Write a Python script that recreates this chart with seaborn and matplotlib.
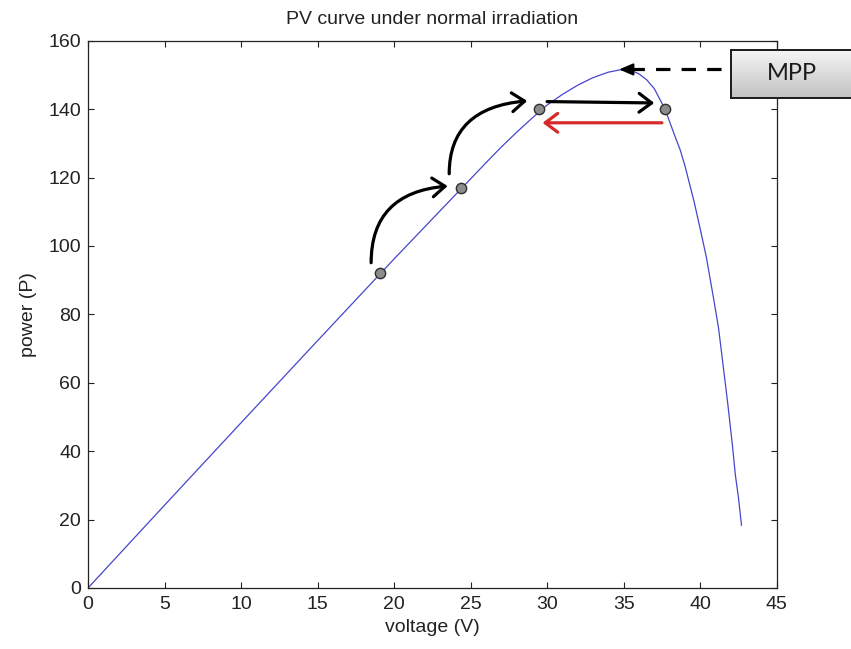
import numpy as np
import seaborn as sns
import matplotlib.pyplot as plt

# PV curve readings (voltage V, power W)
voltage = [0, 5, 10, 15, 20, 25, 26, 27, 28, 29, 30, 31, 32, 33, 34, 34.9, 35.5, 36,
           36.5, 37, 37.7, 38.4, 38.7, 39, 39.6, 40, 40.4, 40.9, 41.2, 41.5, 41.8,
           42.1, 42.3, 42.5, 42.7]
power = [0, 24.2, 48.3, 72.3, 96.2, 119.6, 124.3, 128.9, 133.2, 137.3, 141.2, 144.3,
         147.0, 149.2, 150.8, 151.6, 151.3, 150.3, 148.6, 146.0, 140.0, 131.5, 128.0,
         123.5, 113.0, 105.0, 96.8, 84.0, 76.0, 65.0, 54.0, 42.0, 33.0, 26.5, 18.3]

# perturb & observe operating points
step_v = [19.1, 24.4, 29.5, 37.7]
step_p = [92.1, 116.8, 140.0, 140.0]

x_ticks = list(range(0, 46, 5))
y_ticks = list(range(0, 161, 20))

sns.set_theme(style="ticks")
plt.rcParams['font.family'] = ['Liberation Sans', 'DejaVu Sans']

fig = plt.figure(figsize=(8.51, 6.49), dpi=100)
ax = fig.add_axes([88 / 851, 1 - 588 / 649, (776.7 - 88) / 851, (588 - 40.7) / 649])

sns.lineplot(x=voltage, y=power, ax=ax, color='#4646cc', lw=0.9, sort=False, estimator=None)
sns.scatterplot(x=step_v, y=step_p, ax=ax, s=55, color='#8c8c8c', edgecolor='#2e2e2e',
                linewidth=1.0, zorder=6)

ax.set_xlim(0, 45)
ax.set_ylim(0, 160)
ax.set_xticks(x_ticks)
ax.set_yticks(y_ticks)
ax.tick_params(direction='in', top=True, right=True, length=4, width=0.8,
               labelsize=14, colors='#222222')
ax.tick_params(axis='x', pad=6)
ax.tick_params(axis='y', pad=5)
for s in ax.spines.values():
    s.set_linewidth(0.9)
    s.set_color('#222222')
ax.set_title('PV curve under normal irradiation', fontsize=14, color='#222222', pad=12)
ax.set_xlabel('voltage (V)', fontsize=14, color='#222222', labelpad=4)
ax.set_ylabel('power (P)', fontsize=14, color='#222222', labelpad=8)

# black step arrows
head = '->,head_length=0.6,head_width=0.45'
ax.annotate('', xy=(23.5, 117.5), xytext=(18.5, 95.1),
            arrowprops=dict(arrowstyle=head, lw=2.3, color='black', mutation_scale=15,
                            connectionstyle='angle3,angleA=90,angleB=5', shrinkA=0, shrinkB=0))
ax.annotate('', xy=(28.7, 142.4), xytext=(23.6, 121.1),
            arrowprops=dict(arrowstyle=head, lw=2.3, color='black', mutation_scale=15,
                            connectionstyle='angle3,angleA=90,angleB=5', shrinkA=0, shrinkB=0))
ax.annotate('', xy=(37.0, 141.8), xytext=(30.0, 142.2),
            arrowprops=dict(arrowstyle=head, lw=2.3, color='black', mutation_scale=15,
                            shrinkA=0, shrinkB=0))
# red return arrow
ax.annotate('', xy=(29.7, 136.0), xytext=(37.5, 136.0),
            arrowprops=dict(arrowstyle=head, lw=2.3, color='#d42a2a', mutation_scale=15,
                            shrinkA=0, shrinkB=0))

# dashed MPP pointer
ax.plot([35.4, 42.6], [151.6, 151.6], color='black', lw=2.3, dashes=(4.5, 3.5), clip_on=False)
ax.annotate('', xy=(34.7, 151.6), xytext=(35.8, 151.6),
            arrowprops=dict(arrowstyle='-|>,head_length=0.7,head_width=0.3', lw=1.5,
                            color='black', mutation_scale=12, shrinkA=0, shrinkB=0))

# MPP label box with grey gradient
bax = fig.add_axes([730.7 / 851, 1 - 98.3 / 649, 0.25, 48.3 / 649])
grad = np.linspace(0, 1, 100).reshape(-1, 1)
bax.imshow(grad, aspect='auto', cmap=sns.blend_palette(['#f6f6f6', '#c2c2c2'], as_cmap=True),
           extent=[0, 1, 0, 1])
bax.set_xticks([])
bax.set_yticks([])
for s in bax.spines.values():
    s.set_linewidth(1.4)
    s.set_color('#1a1a1a')
fig.text(792 / 851, 1 - 74 / 649, 'MPP', ha='center', va='center', fontsize=17,
         family=['Lato', 'DejaVu Sans'], color='#1a1a1a')

fig.savefig('out.png', dpi=100)
